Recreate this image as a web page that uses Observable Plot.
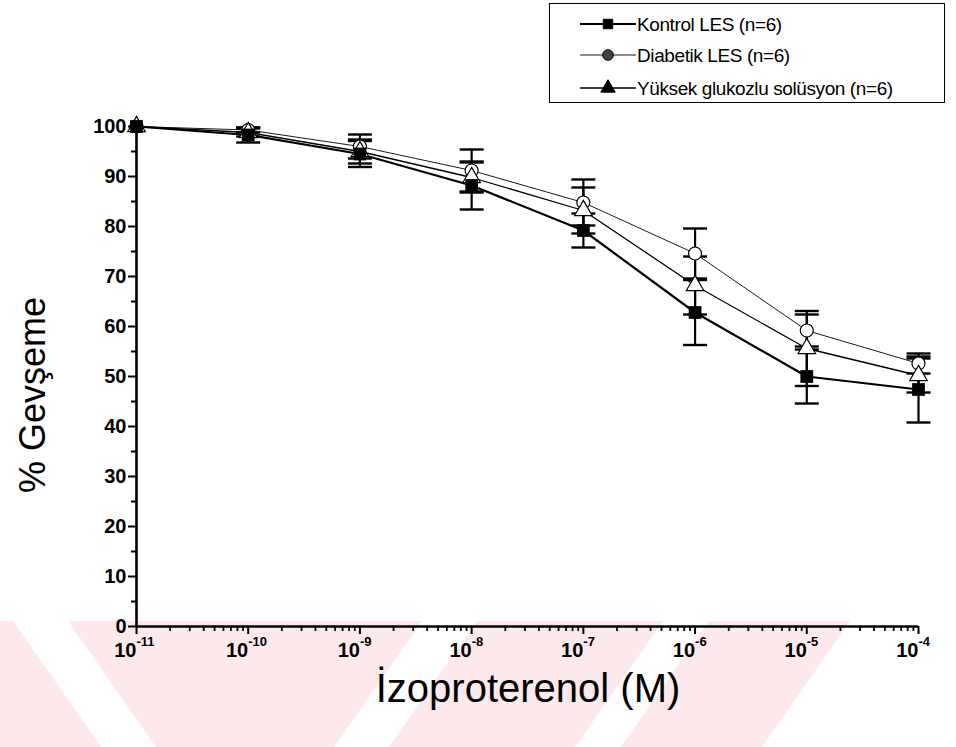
<!DOCTYPE html>
<html>
<head>
<meta charset="utf-8">
<script src="https://cdn.jsdelivr.net/npm/d3@7"></script>
<script src="https://cdn.jsdelivr.net/npm/@observablehq/plot@0.6"></script>
<style>
  html, body { margin: 0; padding: 0; background: white; }
  #wrap { position: relative; width: 956px; height: 747px; overflow: hidden; font-family: "Liberation Sans", Arial, sans-serif; }
  #wm { position: absolute; left: 0; top: 621px; width: 956px; height: 126px; }
  #chart { position: absolute; left: 0; top: 0; }
  #legend { position: absolute; left: 549px; top: 3px; width: 396px; height: 100px; border: 1.5px solid #000; background: white; box-sizing: border-box; }
  #ytitle { position: absolute; left: 33px; top: 395px; transform: translate(-50%, -50%) rotate(-90deg); font-size: 36px; white-space: nowrap; color: #000; }
  #xtitle { position: absolute; left: 528px; top: 688px; transform: translate(-50%, -50%); font-size: 40px; white-space: nowrap; color: #000; }
</style>
</head>
<body>
<div id="wrap">
  <div id="wm"></div>
  <div id="chart"></div>
  <div id="legend"></div>
  <div id="ytitle">% Gevşeme</div>
  <div id="xtitle">İzoproterenol (M)</div>
</div>
<script>
// ---- data ----
const concentrations = [1e-11, 1e-10, 1e-9, 1e-8, 1e-7, 1e-6, 1e-5, 1e-4];
const seriesNames = ["Kontrol LES (n=6)", "Diabetik LES (n=6)", "Yüksek glukozlu solüsyon (n=6)"];
const kontrol      = [100, 98.3, 94.5, 88.2, 79.2, 62.8, 50.0, 47.4];
const kontrolErr   = [0,   1.5,  2.6,  4.8,  3.4,  6.5,  5.4,  6.6];
const diabetik     = [100, 99.3, 96.0, 91.2, 84.8, 74.6, 59.2, 52.6];
const diabetikErr  = [0,   0.5,  2.4,  4.2,  4.6,  5.0,  3.2,  2.0];
const yuksek       = [100, 98.8, 95.0, 89.8, 83.2, 68.2, 55.6, 50.2];
const yuksekErr    = [0,   0.8,  2.4,  3.0,  4.6,  5.8,  7.5,  3.4];
const yTicks = [0, 10, 20, 30, 40, 50, 60, 70, 80, 90, 100];
const yMinorTicks = [5, 15, 25, 35, 45, 55, 65, 75, 85, 95];
const xTickBases = ["10", "10", "10", "10", "10", "10", "10", "10"];
const xTickExponents = ["-11", "-10", "-9", "-8", "-7", "-6", "-5", "-4"];

// ---- decorative background watermark (pink band with white V stripes) ----
(function () {
  const W = 956, H = 126, slant = 88, pink = "#fde8ec";
  const svg = d3.select("#wm").append("svg").attr("width", W).attr("height", H);
  svg.append("polygon").attr("points", `0,0 850,0 ${850 - slant},${H} 0,${H}`).attr("fill", pink);
  const whiteRight = [[422, 477], [663, 709]];
  const whiteLeft = [[13, 68]];
  whiteRight.forEach(([a, b]) => svg.append("polygon")
    .attr("points", `${a},0 ${b},0 ${b - slant},${H} ${a - slant},${H}`).attr("fill", "white"));
  whiteLeft.forEach(([a, b]) => svg.append("polygon")
    .attr("points", `${a},0 ${b},0 ${b + slant},${H} ${a + slant},${H}`).attr("fill", "white"));
})();

// ---- build table ----
const valuesBySeries = [kontrol, diabetik, yuksek];
const errsBySeries = [kontrolErr, diabetikErr, yuksekErr];
const rows = [];
seriesNames.forEach((s, k) => {
  concentrations.forEach((c, i) => {
    rows.push({series: s, k, c, v: valuesBySeries[k][i], e: errsBySeries[k][i]});
  });
});
const errRows = rows.filter(d => d.e > 0);
const capRows = errRows.flatMap(d => [{...d, y: d.v + d.e}, {...d, y: d.v - d.e}]);
const xMinor = [];
for (let i = 0; i < concentrations.length - 1; i++) for (let m = 2; m <= 9; m++) xMinor.push(concentrations[i] * m);
const xLabelRows = concentrations.map((c, i) => ({c, base: xTickBases[i], exp: xTickExponents[i]}));

const capSymbol = { draw(ctx) { ctx.moveTo(-12, 0); ctx.lineTo(12, 0); } };
const lineWidths = [2.2, 0.9, 1.3];
const FONT = '"Liberation Sans", Arial, sans-serif';

const marks = [];
seriesNames.forEach((s, k) => {
  marks.push(Plot.line(rows.filter(d => d.k === k), {x: "c", y: "v", stroke: "#000", strokeWidth: lineWidths[k]}));
});
marks.push(Plot.ruleX(errRows, {x: "c", y1: d => d.v - d.e, y2: d => d.v + d.e, stroke: "#000", strokeWidth: 2.2}));
marks.push(Plot.dot(capRows, {x: "c", y: "y", symbol: capSymbol, r: 5, fill: "none", stroke: "#000", strokeWidth: 2.4}));
marks.push(Plot.ruleX([concentrations[0]], {stroke: "#000", strokeWidth: 2.6, y1: 0, y2: 100}));
marks.push(Plot.ruleY([0], {stroke: "#000", strokeWidth: 2.6}));
marks.push(Plot.axisY(yTicks, {tickSize: 8, tickPadding: 2, strokeWidth: 2, fontSize: 20, fontWeight: "bold", fontFamily: FONT, label: null, fill: "#000"}));
marks.push(Plot.axisY(yMinorTicks, {tickSize: 5, strokeWidth: 2, tickFormat: () => "", label: null}));
marks.push(Plot.axisX(concentrations, {tickSize: 8, strokeWidth: 2, tickFormat: () => "", label: null}));
marks.push(Plot.axisX(xMinor, {tickSize: 5, strokeWidth: 1.8, tickFormat: () => "", label: null}));
marks.push(Plot.text(xLabelRows, {x: "c", y: () => 0, text: "base", textAnchor: "end", dy: 24, fontSize: 20, fontWeight: "bold", fontFamily: FONT, fill: "#000"}));
marks.push(Plot.text(xLabelRows, {x: "c", y: () => 0, text: "exp", textAnchor: "start", dx: 0, dy: 15, fontSize: 13, fontWeight: "bold", fontFamily: FONT, fill: "#000"}));
marks.push(Plot.dot(rows.filter(d => d.k === 1), {x: "c", y: "v", symbol: "circle", r: 6.5, fill: "white", stroke: "#000", strokeWidth: 1.2}));
marks.push(Plot.dot(rows.filter(d => d.k === 2), {x: "c", y: "v", symbol: "triangle", r: 6.5, fill: "white", stroke: "#000", strokeWidth: 1.2}));
marks.push(Plot.dot(rows.filter(d => d.k === 0), {x: "c", y: "v", symbol: "square", r: 7.2, fill: "#000", stroke: "none"}));

const chart = Plot.plot({
  width: 956, height: 747,
  marginLeft: 136, marginRight: 38, marginTop: 126, marginBottom: 121,
  style: {background: "transparent", fontFamily: FONT, overflow: "visible"},
  x: {type: "log", domain: [1e-11, 1e-4], axis: null},
  y: {domain: [0, 100], axis: null},
  marks
});
document.getElementById("chart").appendChild(chart);

// ---- legend ----
const lg = d3.select("#legend").append("svg").attr("width", 396).attr("height", 100);
const legendSymbols = ["square", "circle", "triangle"];
const legendRowsY = [20, 51, 84];
seriesNames.forEach((s, k) => {
  const y = legendRowsY[k];
  const g = lg.append("g");
  g.append("line").attr("x1", 30).attr("x2", 86).attr("y1", y).attr("y2", y).attr("stroke", "#000").attr("stroke-width", lineWidths[k]);
  const sym = legendSymbols[k] === "square" ? d3.symbolSquare : legendSymbols[k] === "circle" ? d3.symbolCircle : d3.symbolTriangle;
  g.append("path").attr("d", d3.symbol(sym, 90)()).attr("transform", `translate(58,${y})`)
    .attr("fill", k === 1 ? "#444" : "#000").attr("stroke", "#000").attr("stroke-width", 1);
  g.append("text").attr("x", 87).attr("y", y).attr("dy", "0.35em").attr("font-size", 19).attr("font-family", FONT)
    .attr("letter-spacing", "-0.4").attr("fill", "#000").text(s);
});
</script>
</body>
</html>
